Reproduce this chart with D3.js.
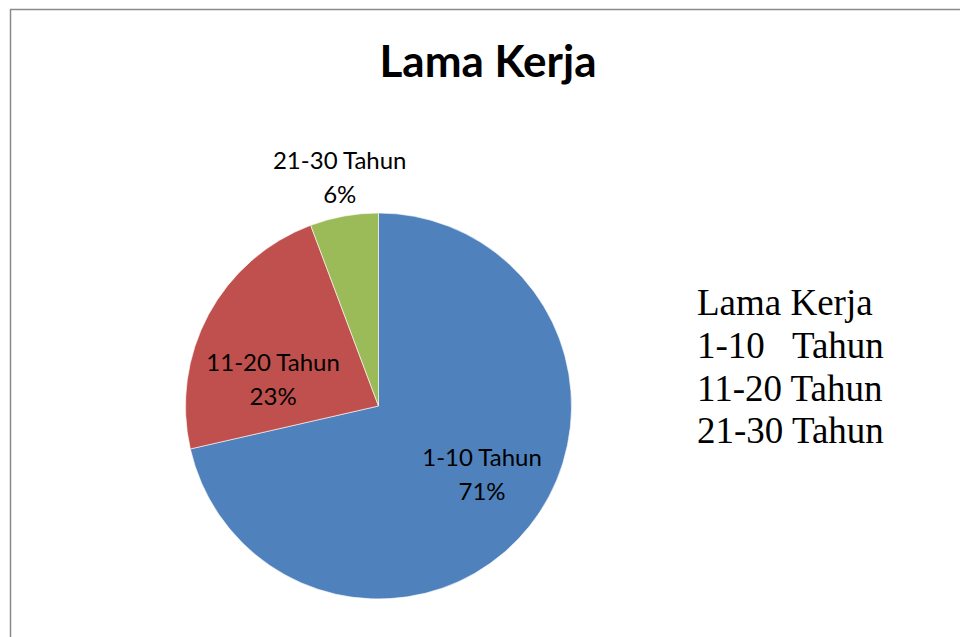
<!DOCTYPE html>
<html>
<head>
<meta charset="utf-8">
<script src="https://cdn.jsdelivr.net/npm/d3@7"></script>
<style>
  body { margin: 0; background: #fff; }
  svg { display: block; }
</style>
</head>
<body>
<div class="vis"></div>
<script>
'use strict';

// data (counts giving 71% / 23% / 6%)
var categories = ['1-10 Tahun', '11-20 Tahun', '21-30 Tahun'];
var counts = [25, 8, 2];
var percentLabels = ['71%', '23%', '6%'];
var legendTitle = 'Lama Kerja';
var legendRows = ['1-10   Tahun', '11-20 Tahun', '21-30 Tahun'];
var title = 'Lama Kerja';

var width = 960;
var height = 637;
var colors = ['#4F81BD', '#C0504D', '#9BBB59'];

var svg = d3.select('.vis')
  .append('svg')
  .attr('width', width)
  .attr('height', height);

// chart frame
svg.append('rect')
  .attr('x', 10.5)
  .attr('y', 9.5)
  .attr('width', width + 20)
  .attr('height', height + 20)
  .attr('fill', '#fff')
  .attr('stroke', '#8a8a8a')
  .attr('stroke-width', 1.5);

// title
svg.append('text')
  .attr('x', 488)
  .attr('y', 77)
  .attr('text-anchor', 'middle')
  .attr('font-family', 'Lato, sans-serif')
  .attr('font-weight', 'bold')
  .attr('font-size', 44)
  .text(title);

// pie
var cx = 378.5, cy = 406, r = 193;
var pie = d3.pie().sort(null).value(function(d) { return d; });
var arcs = pie(counts);
var arc = d3.arc().innerRadius(0).outerRadius(r);

var g = svg.append('g').attr('transform', 'translate(' + cx + ',' + cy + ')');

g.selectAll('path')
  .data(arcs)
  .enter()
  .append('path')
  .attr('d', arc)
  .attr('fill', function(d, i) { return colors[i]; })
  .attr('stroke', '#fff')
  .attr('stroke-width', 0.6);

// data labels: inside for big slices, outside for the small one
var labelRadius = [0.62, 0.62, 1.27];
var labelNudge = [[10, -6], [0, 31], [5, 13]];

var labels = g.selectAll('.lbl')
  .data(arcs)
  .enter()
  .append('text')
  .attr('class', 'lbl')
  .attr('text-anchor', 'middle')
  .attr('font-family', 'Lato, sans-serif')
  .attr('font-size', 24)
  .attr('fill', '#000')
  .attr('transform', function(d, i) {
    var lr = r * labelRadius[i];
    var c = d3.arc().innerRadius(lr).outerRadius(lr).centroid(d);
    return 'translate(' + (c[0] + labelNudge[i][0]) + ',' + (c[1] + labelNudge[i][1]) + ')';
  });

labels.append('tspan')
  .attr('x', 0)
  .attr('y', -9)
  .text(function(d, i) { return categories[i]; });

labels.append('tspan')
  .attr('x', 0)
  .attr('y', 25)
  .text(function(d, i) { return percentLabels[i]; });

// legend (text only)
var legend = svg.append('g')
  .attr('font-family', '"Liberation Serif", "Times New Roman", serif')
  .attr('font-size', 37)
  .attr('fill', '#000');

legend.append('text')
  .attr('x', 697)
  .attr('y', 315)
  .text(legendTitle);

legend.selectAll('.row')
  .data(legendRows)
  .enter()
  .append('text')
  .attr('class', 'row')
  .attr('x', 697)
  .attr('y', function(d, i) { return 358 + i * 42.5; })
  .attr('xml:space', 'preserve')
  .style('white-space', 'pre')
  .text(function(d) { return d; });
</script>
</body>
</html>
